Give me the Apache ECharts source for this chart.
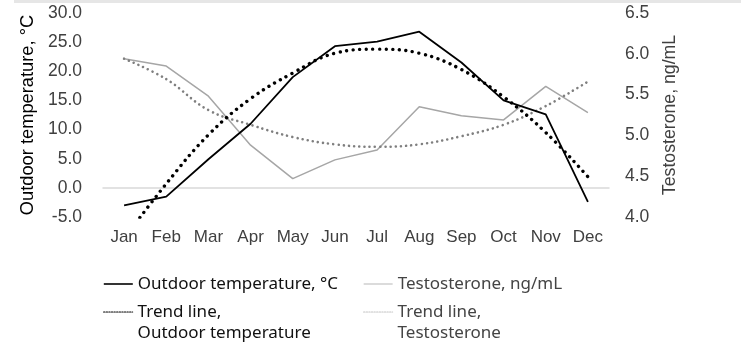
<!DOCTYPE html>
<html>
<head>
<meta charset="utf-8">
<script src="https://cdn.jsdelivr.net/npm/echarts@6/dist/echarts.min.js"></script>
<style>
html,body{margin:0;padding:0;background:#fff;}
#chart{width:741px;height:358px;}
</style>
</head>
<body>
<div id="chart"></div>
<script>
const months = ['Jan','Feb','Mar','Apr','May','Jun','Jul','Aug','Sep','Oct','Nov','Dec'];
const temperature = [-3.0, -1.5, 4.9, 11.0, 19.0, 24.3, 25.1, 26.8, 21.5, 15.0, 12.6, -2.4];
const testosterone = [5.94, 5.85, 5.48, 4.88, 4.47, 4.70, 4.82, 5.35, 5.24, 5.19, 5.60, 5.28];
const temperatureTrend = [-8.7, 0.7, 9.1, 15.3, 19.7, 23.1, 23.8, 23.1, 20.3, 15.6, 9.5, 1.9];
const testosteroneTrend = [5.94, 5.69, 5.31, 5.13, 4.98, 4.89, 4.86, 4.89, 4.99, 5.13, 5.36, 5.66];

const N1 = 'Outdoor temperature, °C';
const N2 = 'Testosterone, ng/mL';
const N3 = 'Trend line,\nOutdoor temperature';
const N4 = 'Trend line,\nTestosterone';

const axisFont = 'Liberation Sans, Arial, sans-serif';
const legendFont = 'Noto Sans, sans-serif';

function legendItem(name, left, top, color, lineStyle, multi) {
  return {
    left: left, top: top, padding: 0, itemWidth: 29, itemHeight: 21, itemGap: 0,
    selectedMode: false,
    formatter: multi ? (n => ' \n' + n) : (n => n),
    textStyle: { fontFamily: legendFont, fontSize: 17, color: color, lineHeight: 21 },
    data: [{ name: name, lineStyle: lineStyle, itemStyle: { opacity: 0, color: 'rgba(0,0,0,0)', borderWidth: 0 } }]
  };
}

const chart = echarts.init(document.getElementById('chart'), null, { renderer: 'canvas' });
chart.setOption({
  animation: false,
  backgroundColor: '#fff',
  graphic: [{
    type: 'rect', left: 14, top: 0, shape: { width: 727, height: 3 },
    style: { fill: '#e6e6e6' }, silent: true
  }],
  grid: { left: 103, right: 132, top: 13, bottom: 141, containLabel: false, outerBoundsMode: 'none' },
  legend: [
    legendItem(N1, 103, 273.5, '#111', { color: '#000', width: 1.6, type: 'solid' }, false),
    legendItem(N2, 363, 273.5, '#444', { color: '#c8c8c8', width: 1.3, type: 'solid' }, false),
    legendItem(N3, 103, 280.5, '#111', { color: '#000', width: 1.2, type: [1.3, 1.3] }, true),
    legendItem(N4, 363, 280.5, '#444', { color: '#c4c4c4', width: 1.2, type: [1.3, 1.3] }, true)
  ],
  xAxis: {
    type: 'category', data: months, boundaryGap: true,
    axisLine: { lineStyle: { color: '#d9d9d9', width: 1.5 } },
    axisTick: { show: false },
    axisLabel: { fontFamily: axisFont, fontSize: 17, color: '#404040', margin: 12 },
    splitLine: { show: false }
  },
  yAxis: [{
    type: 'value', min: -5, max: 30, interval: 5, position: 'left',
    name: N1, nameLocation: 'middle', nameGap: 63, nameRotate: 90,
    nameTextStyle: { fontFamily: axisFont, fontSize: 18.3, color: '#000' },
    axisLine: { show: false }, axisTick: { show: false }, splitLine: { show: false },
    axisLabel: { fontFamily: axisFont, fontSize: 17.5, color: '#404040', margin: 21,
      formatter: v => v.toFixed(1) }
  }, {
    type: 'value', min: 4, max: 6.5, interval: 0.5, position: 'right',
    name: N2, nameLocation: 'middle', nameGap: 52, nameRotate: 90,
    nameTextStyle: { fontFamily: axisFont, fontSize: 17.7, color: '#404040' },
    axisLine: { show: false }, axisTick: { show: false }, splitLine: { show: false },
    axisLabel: { fontFamily: axisFont, fontSize: 17.5, color: '#404040', margin: 16,
      formatter: v => v.toFixed(1) }
  }],
  series: [{
    name: N2, type: 'line', yAxisIndex: 1, data: testosterone, symbol: 'none',
    itemStyle: { color: '#a6a6a6' },
    lineStyle: { color: '#a6a6a6', width: 1.5 }, z: 2
  }, {
    name: N4, type: 'line', yAxisIndex: 1, data: testosteroneTrend, symbol: 'none', smooth: 0.4,
    itemStyle: { color: '#7f7f7f' },
    lineStyle: { color: '#7f7f7f', width: 2.6, type: [0.01, 5.2], cap: 'round' }, z: 3
  }, {
    name: N1, type: 'line', yAxisIndex: 0, data: temperature, symbol: 'none',
    itemStyle: { color: '#000' },
    lineStyle: { color: '#000', width: 1.8 }, z: 4
  }, {
    name: N3, type: 'line', yAxisIndex: 0, data: temperatureTrend, symbol: 'none', smooth: 0.4,
    itemStyle: { color: '#000' },
    lineStyle: { color: '#000', width: 3.4, type: [0.01, 6.6], cap: 'round' }, z: 5
  }]
});
</script>
</body>
</html>
